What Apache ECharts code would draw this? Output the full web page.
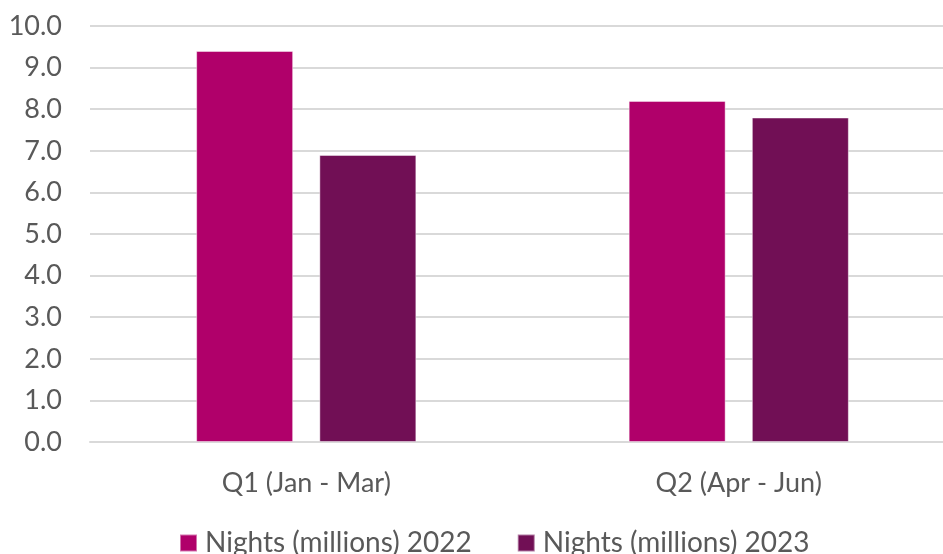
<!DOCTYPE html>
<html>
<head>
<meta charset="utf-8">
<script src="https://cdn.jsdelivr.net/npm/echarts@6/dist/echarts.min.js"></script>
<style>
  html, body { margin: 0; padding: 0; background: #ffffff; overflow: hidden; }
  /* the plot area runs a little past the right edge of the window */
  #chart { width: 955px; height: 554px; }
</style>
</head>
<body>
<div id="chart"></div>
<script>
// Quarterly overnight stays, in millions
const quarters = ['Q1 (Jan - Mar)', 'Q2 (Apr - Jun)'];
const nights2022 = [9.4, 8.2];
const nights2023 = [6.9, 7.8];
const seriesNames = ['Nights (millions) 2022', 'Nights (millions) 2023'];

const FONT = 'Lato';
const TEXT = '#595959';

const chart = echarts.init(document.getElementById('chart'), null, { renderer: 'canvas' });

chart.setOption({
  animation: false,
  textStyle: { fontFamily: FONT },
  grid: { left: 90, right: 0, top: 26, bottom: 112, containLabel: false },
  legend: {
    top: 524,
    left: 174,
    padding: 5,
    itemWidth: 17,
    itemHeight: 17,
    itemGap: 45,
    icon: 'rect',
    textStyle: { fontFamily: FONT, fontSize: 28, color: TEXT, padding: [0, 0, 0, 3] },
    data: seriesNames
  },
  xAxis: {
    type: 'category',
    data: quarters,
    axisLine: { show: true, lineStyle: { color: '#d9d9d9', width: 2 } },
    axisTick: { show: false },
    axisLabel: { fontFamily: FONT, fontSize: 27, color: TEXT, margin: 28 }
  },
  yAxis: {
    type: 'value',
    min: 0,
    max: 10,
    interval: 1,
    axisLine: { show: false },
    axisTick: { show: false },
    splitLine: { lineStyle: { color: '#d9d9d9', width: 2 } },
    axisLabel: {
      fontFamily: FONT, fontSize: 27, color: TEXT, margin: 28,
      formatter: v => v.toFixed(1)
    }
  },
  series: [
    {
      name: seriesNames[0],
      type: 'bar',
      data: nights2022,
      barWidth: 97,
      barGap: '27%',
      itemStyle: { color: '#B0006A', borderColor: 'rgba(255,255,255,0.45)', borderWidth: 1 }
    },
    {
      name: seriesNames[1],
      type: 'bar',
      data: nights2023,
      barWidth: 97,
      barGap: '27%',
      itemStyle: { color: '#710F55', borderColor: 'rgba(255,255,255,0.45)', borderWidth: 1 }
    }
  ]
});
</script>
</body>
</html>
